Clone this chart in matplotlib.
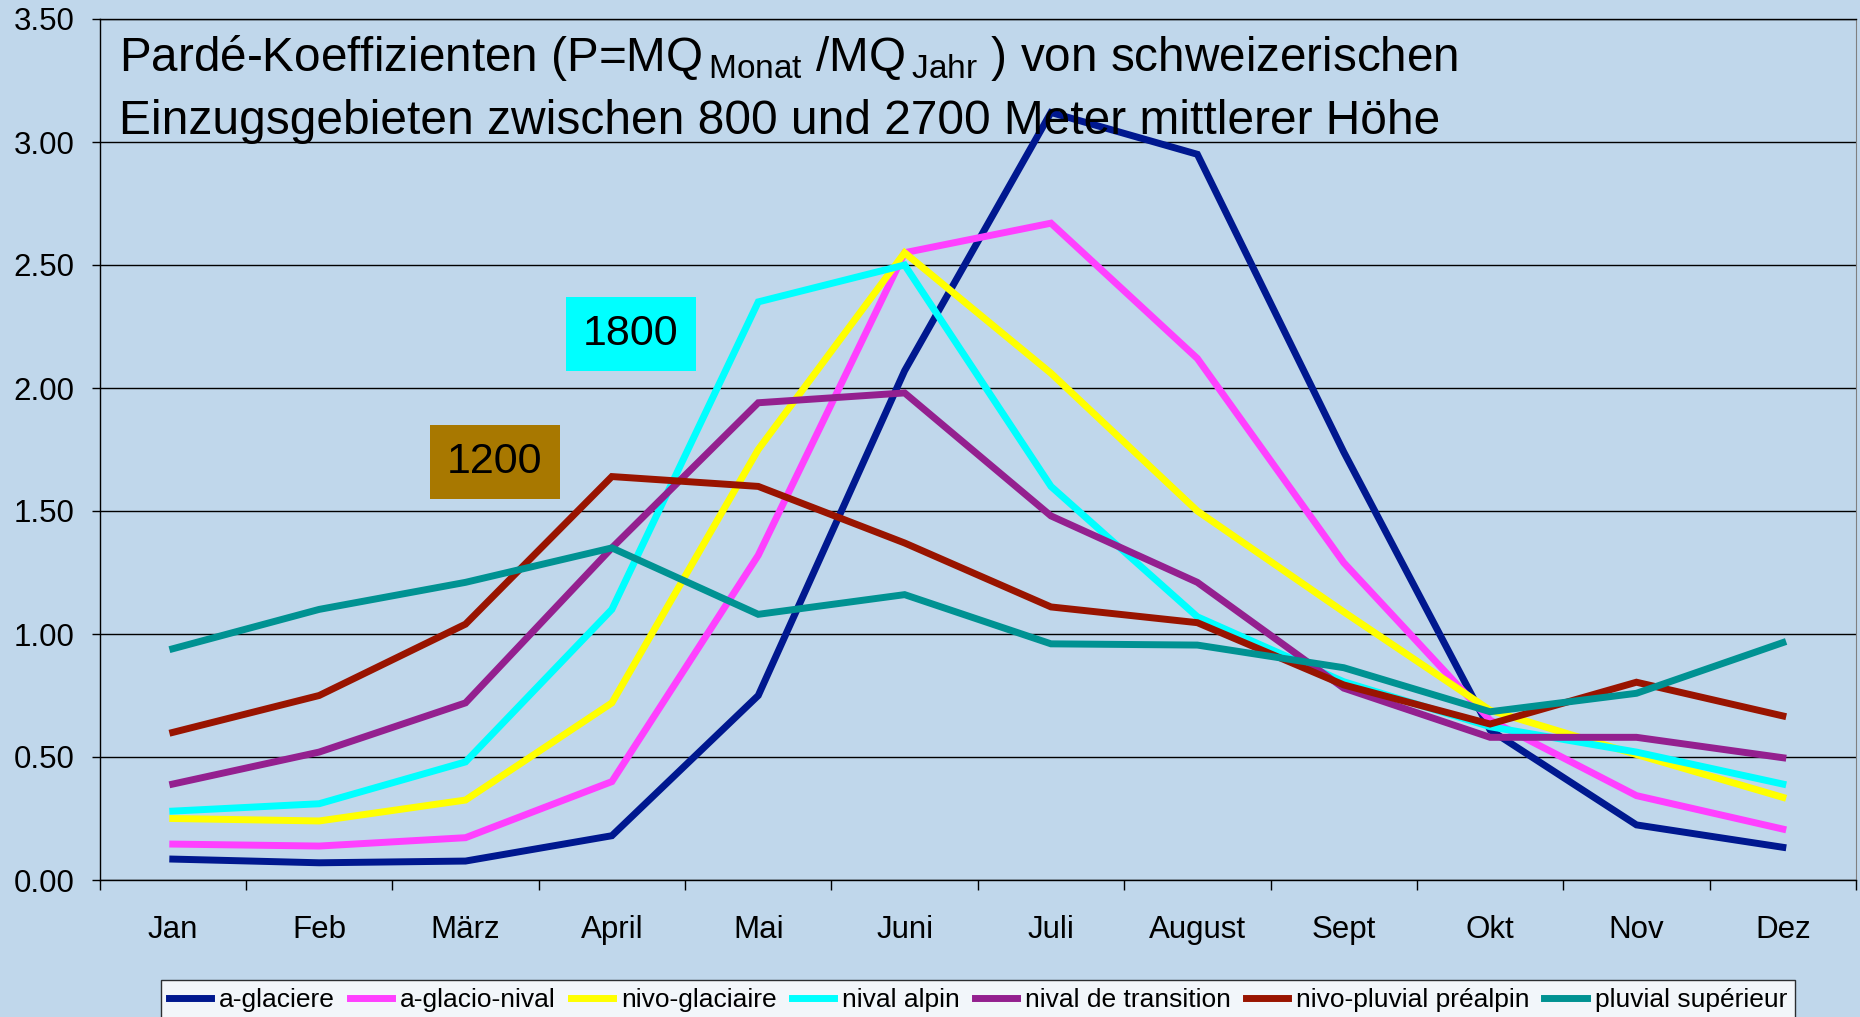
import matplotlib
matplotlib.use("Agg")
import matplotlib.pyplot as plt
import numpy as np

plt.rcParams["font.family"] = ["Liberation Sans", "DejaVu Sans"]
plt.rcParams["mathtext.fontset"] = "custom"
plt.rcParams["mathtext.rm"] = "Liberation Sans"

months = ["Jan", "Feb", "März", "April", "Mai", "Juni", "Juli", "August",
          "Sept", "Okt", "Nov", "Dez"]

a_glaciere = [0.085, 0.07, 0.077, 0.18, 0.75, 2.07, 3.12, 2.95, 1.74, 0.61, 0.224, 0.133]
a_glacio_nival = [0.146, 0.138, 0.172, 0.40, 1.32, 2.55, 2.67, 2.12, 1.29, 0.65, 0.343, 0.207]
nivo_glaciaire = [0.25, 0.24, 0.325, 0.72, 1.75, 2.55, 2.06, 1.50, 1.09, 0.69, 0.51, 0.336]
nival_alpin = [0.28, 0.31, 0.48, 1.10, 2.35, 2.50, 1.60, 1.07, 0.806, 0.623, 0.52, 0.39]
nival_transition = [0.39, 0.52, 0.72, 1.35, 1.94, 1.98, 1.48, 1.21, 0.78, 0.58, 0.58, 0.497]
nivo_pluvial = [0.60, 0.75, 1.04, 1.64, 1.60, 1.37, 1.11, 1.046, 0.793, 0.634, 0.804, 0.667]
pluvial_sup = [0.94, 1.10, 1.21, 1.35, 1.08, 1.16, 0.96, 0.955, 0.863, 0.684, 0.759, 0.965]

series = [
    ("a-glaciere", a_glaciere, "#00188f"),
    ("a-glacio-nival", a_glacio_nival, "#ff40ff"),
    ("nivo-glaciaire", nivo_glaciaire, "#ffff00"),
    ("nival alpin", nival_alpin, "#00ffff"),
    ("nival de transition", nival_transition, "#94208f"),
    ("nivo-pluvial préalpin", nivo_pluvial, "#991400"),
    ("pluvial supérieur", pluvial_sup, "#009292"),
]

bg = "#c0d7eb"
W, H = 1860, 1017
fig = plt.figure(figsize=(W / 100, H / 100), dpi=100, facecolor=bg)
ax = fig.add_axes([99.6 / W, 1 - 880 / H, (1856 - 99.6) / W, (880 - 19) / H])
ax.set_facecolor(bg)

x = np.arange(len(months))
lines = []
for name, vals, col in series:
    ln, = ax.plot(x, vals, color=col, lw=5, label=name, solid_joinstyle="miter")
    lines.append(ln)

ax.set_xlim(-0.5, 11.5)
ax.set_ylim(0, 3.5)
ax.set_yticks(np.arange(0, 3.51, 0.5))
ax.set_yticklabels([f"{v:.2f}" for v in np.arange(0, 3.51, 0.5)])
ax.set_xticks(x)
ax.set_xticklabels(months)
ax.set_xticks(np.arange(-0.5, 11.6, 1), minor=True)
ax.tick_params(axis="x", which="major", length=0, pad=25.5, labelsize=22.5)
ax.tick_params(axis="x", which="minor", length=7, width=1, direction="out")
ax.tick_params(axis="y", length=6, width=1, pad=12, labelsize=22.5, direction="out")
ax.grid(axis="y", color="black", lw=1)
ax.set_axisbelow(True)
for s in ["left", "bottom", "top"]:
    ax.spines[s].set_color("black")
    ax.spines[s].set_linewidth(1)
ax.spines["right"].set_color("#808080")

fig.text(118.6 / W, 1 - 71 / H,
         r"Pardé-Koeffizienten (P=MQ$_{\,\mathrm{Monat}}$ /MQ$_{\,\mathrm{Jahr}}$ ) von schweizerischen",
         fontsize=34.3, va="baseline", ha="left")
fig.text(118.6 / W, 1 - 134 / H,
         "Einzugsgebieten zwischen 800 und 2700 Meter mittlerer Höhe",
         fontsize=34.5, va="baseline", ha="left")

ax.text(3.13, 2.22, "1800", fontsize=31, ha="center", va="center",
        bbox=dict(boxstyle="square,pad=0.4", fc="#00ffff", ec="none"))
ax.text(2.20, 1.70, "1200", fontsize=31, ha="center", va="center",
        bbox=dict(boxstyle="square,pad=0.4", fc="#a87800", ec="none"))

leg = fig.legend(handles=lines, loc="upper left", bbox_to_anchor=(161 / W, 1 - 980 / H),
                 ncol=7, fontsize=19, frameon=True, fancybox=False,
                 handlelength=1.6, handletextpad=0.3, columnspacing=0.57,
                 borderaxespad=0, borderpad=0.3)
leg.get_frame().set_edgecolor("black")
leg.get_frame().set_facecolor("white")
leg.get_frame().set_linewidth(1)

fig.savefig("out.png", dpi=100, facecolor=bg)
